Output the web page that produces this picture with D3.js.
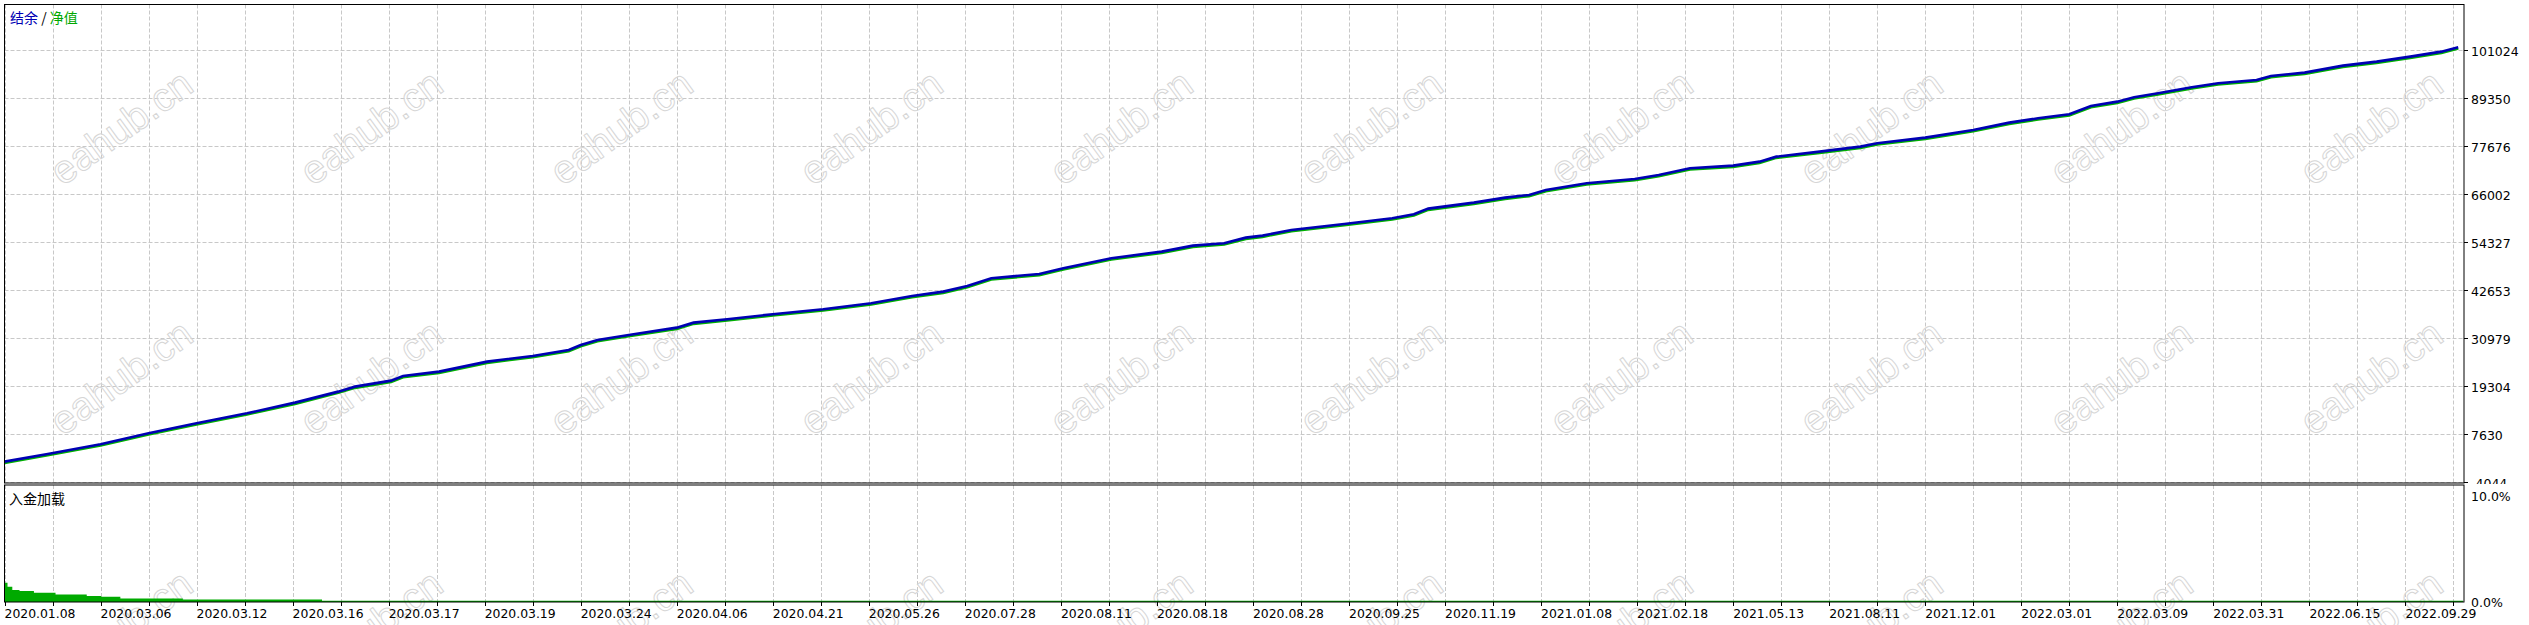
<!DOCTYPE html>
<html><head><meta charset="utf-8">
<script src="https://cdn.jsdelivr.net/npm/d3@7"></script>
<style>body{margin:0;background:#fff;overflow:hidden} svg{display:block}</style>
</head><body><svg id="c" width="2529" height="625"></svg>
<script>
// ---- data ----
const trades = [0,18,40,60,80,101,121,139,146,161,166,181,201,220,235,240,247,260,280,287,301,321,341,361,378,391,401,411,431,441,461,482,495,508,517,524,536,558,578,587,593,612,625,635,642,659,679,689,702,720,731,738,756,773,780,800,820,835,847,860,869,880,887,897,911,922,938,944,958,974,988,1002,1015,1022];
const balance = [982,2847,5198,7873,10305,12737,15332,18007,19222,20682,21817,22871,25303,26682,28141,29357,30573,31789,33572,34788,35600,36896,38031,39490,41274,42328,43706,45571,46625,48003,50435,52056,53515,54083,55461,55948,57326,58785,60163,61136,62514,63973,65189,65837,67053,68674,69728,70701,72322,72971,73944,75160,76376,77592,78403,79781,81646,83429,84483,85456,87483,88536,89590,90563,92022,92995,93806,94779,95589,97292,98264,99480,100696,101750];
const equity = [682,2547,4898,7573,10005,12437,15032,17707,18922,20382,21517,22571,25003,26382,27841,29057,30273,31489,33272,34488,35300,36596,37731,39190,40974,42028,43406,45271,46325,47703,50135,51756,53215,53783,55161,55648,57026,58485,59863,60836,62214,63673,64889,65537,66753,68374,69428,70401,72022,72671,73644,74860,76076,77292,78103,79481,81346,83129,84183,85156,87183,88236,89290,90263,91722,92695,93506,94479,95289,96992,97964,99180,100396,101450];
const loadTrades = [0,1,3,6,12,21,34,40,48,74,132,1024];
const loadPct = [1.76,1.38,1.07,0.97,0.82,0.66,0.50,0.44,0.28,0.19,0.05,0.05];
const yTicks = [-4044,7630,19304,30979,42653,54327,66002,77676,89350,101024];
const loadTicks = [0,10];
const xLabels = ["2020.01.08","2020.03.06","2020.03.12","2020.03.16","2020.03.17","2020.03.19","2020.03.24","2020.04.06","2020.04.21","2020.05.26","2020.07.28","2020.08.11","2020.08.18","2020.08.28","2020.09.25","2020.11.19","2021.01.08","2021.02.18","2021.05.13","2021.08.11","2021.12.01","2022.03.01","2022.03.09","2022.03.31","2022.06.15","2022.09.29"];
const gridStep = 20, labelStep = 40, maxTrade = 1024.4;

// ---- layout ----
const L = 4.5, R = 2464, T1 = 4.5, B1 = 483, T2 = 485, B2 = 602;
const svg = d3.select("#c");
const font = "'DejaVu Sans', Verdana, sans-serif";
const cjk = "'Noto Sans CJK SC', sans-serif";

const x = d3.scaleLinear().domain([0, maxTrade]).range([L, R]);
const y = d3.scaleLinear().domain([-4044, 112210]).range([482.3, 4.3]);
const yl = d3.scaleLinear().domain([0, 10]).range([B2, 496]);

const defs = svg.append("defs");
defs.append("clipPath").attr("id","cp1").append("rect").attr("x",L).attr("y",T1).attr("width",R-L).attr("height",B1-T1);
defs.append("clipPath").attr("id","cp2").append("rect").attr("x",L).attr("y",T2).attr("width",R-L).attr("height",B2-T2);
defs.append("clipPath").attr("id","cpl").append("rect").attr("x",R).attr("y",0).attr("width",80).attr("height",484);

const gridTicks = d3.range(0, maxTrade, gridStep);
const grid = svg.append("g").attr("stroke","#c8c8c8").attr("stroke-dasharray","4,2").attr("stroke-width",1);
grid.selectAll(".vg1").data(gridTicks).join("line")
  .attr("x1",d=>Math.round(x(d))+0.5).attr("x2",d=>Math.round(x(d))+0.5).attr("y1",T1).attr("y2",B1);
grid.selectAll(".vg2").data(gridTicks).join("line")
  .attr("x1",d=>Math.round(x(d))+0.5).attr("x2",d=>Math.round(x(d))+0.5).attr("y1",T2).attr("y2",B2);
grid.selectAll(".hg").data(yTicks).join("line")
  .attr("x1",L).attr("x2",R).attr("y1",d=>Math.round(y(d))+0.5).attr("y2",d=>Math.round(y(d))+0.5);

// ---- watermarks ----
const wm = svg.append("g");
const wmX = d3.range(121, 2400, 250), wmY = [127, 377, 627];
wmY.forEach(wy => wmX.forEach(wx => {
  wm.append("text").attr("transform",`translate(${wx},${wy}) rotate(-36)`)
    .attr("text-anchor","middle").attr("dy","0.35em")
    .attr("font-family","'Liberation Sans', Arial, sans-serif").attr("font-size",40)
    .attr("fill","none").attr("stroke","#d6d6d6").attr("stroke-width",1)
    .text("eahub.cn");
}));

// ---- balance / equity ----
const pts = (vals)=> trades.map((t,i)=>[t, vals[i]]);
const line = d3.line().x(d=>x(d[0])).y(d=>y(d[1]));
const g1 = svg.append("g").attr("clip-path","url(#cp1)");
g1.append("path").attr("d", line(pts(equity))).attr("fill","none").attr("stroke","#00b000").attr("stroke-width",2.6);
g1.append("path").attr("d", line(pts(balance))).attr("fill","none").attr("stroke","#0000b4").attr("stroke-width",2.6);

// ---- deposit load ----
const g2 = svg.append("g").attr("clip-path","url(#cp2)");
const ld = loadTrades.map((t,i)=>[t, loadPct[i]]);
g2.append("path").attr("d", d3.area().curve(d3.curveStepAfter).x(d=>x(d[0])).y0(yl(0)).y1(d=>yl(d[1]))(ld))
  .attr("fill","#00aa00");
g2.append("path").attr("d", d3.line().curve(d3.curveStepAfter).x(d=>x(d[0])).y(d=>yl(d[1]))(ld))
  .attr("fill","none").attr("stroke","#00aa00").attr("stroke-width",1.2);

// ---- frames ----
const fr = svg.append("g").attr("fill","none").attr("stroke","#000").attr("stroke-width",1);
fr.append("rect").attr("x",L).attr("y",T1).attr("width",R-L).attr("height",B1-T1);
fr.append("rect").attr("x",L).attr("y",T2).attr("width",R-L).attr("height",B2-T2);

// ---- right axis (upper) ----
const ra = svg.append("g").attr("clip-path","url(#cpl)");
ra.selectAll("line").data(yTicks).join("line")
  .attr("x1",R).attr("x2",R+4).attr("y1",d=>Math.round(y(d))+0.5).attr("y2",d=>Math.round(y(d))+0.5).attr("stroke","#000");
ra.selectAll("text").data(yTicks).join("text")
  .attr("x",R+7).attr("y",d=>y(d)+6).attr("font-family",font).attr("font-size",12.5).attr("fill","#000")
  .text(d=>d);

// ---- right axis (lower) ----
svg.append("g").selectAll("text").data(loadTicks).join("text")
  .attr("x",R+7).attr("y",d=>yl(d)+5).attr("font-family",font).attr("font-size",12.5).attr("fill","#000")
  .text(d=>d.toFixed(1)+"%");

// ---- x axis ----
const xa = svg.append("g");
xa.selectAll("line").data(gridTicks).join("line")
  .attr("x1",d=>Math.round(x(d))+0.5).attr("x2",d=>Math.round(x(d))+0.5).attr("y1",B2).attr("y2",B2+4).attr("stroke","#000");
xa.selectAll("text").data(xLabels).join("text")
  .attr("x",(d,i)=>x(i*labelStep)).attr("y",618).attr("font-family",font).attr("font-size",12.4).attr("fill","#000")
  .text(d=>d);

// ---- legends ----
const lg = svg.append("text").attr("x",10).attr("y",23).attr("font-family",cjk).attr("font-size",14);
lg.append("tspan").attr("fill","#0000b4").text("结余");
lg.append("tspan").attr("fill","#000").text(" / ");
lg.append("tspan").attr("fill","#00a800").text("净值");
svg.append("text").attr("x",9).attr("y",504).attr("font-family",cjk).attr("font-size",14).attr("fill","#000").text("入金加载");
</script></body></html>
